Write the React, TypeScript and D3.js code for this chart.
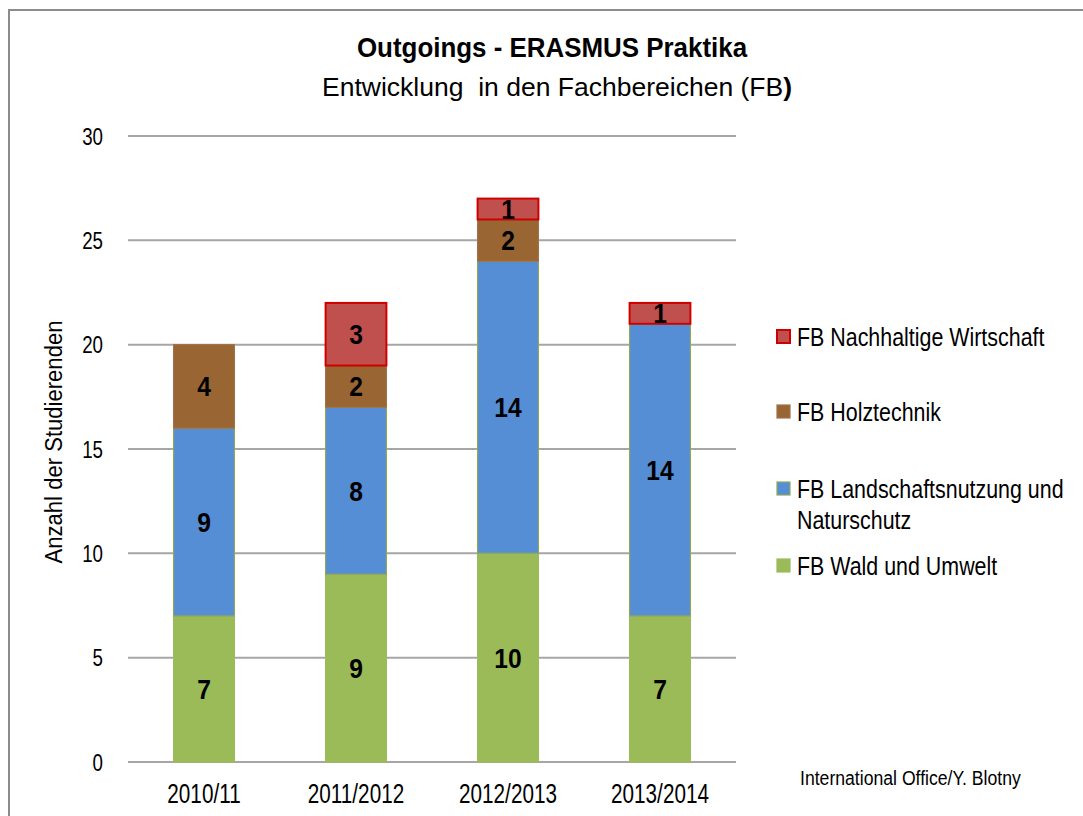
import React from 'react';
import * as d3 from 'd3';

const years = ['2010/11', '2011/2012', '2012/2013', '2013/2014'];
const wald = [7, 9, 10, 7];
const landschaft = [9, 8, 14, 14];
const holz = [4, 2, 2, 0];
const nachhaltig = [0, 3, 1, 1];
const yTicks = [0, 5, 10, 15, 20, 25, 30];

const fills = ['#9BBB59', '#558ED5', '#996633', '#C0504D'];
const strokes = ['#9BBB59', '#8DA85A', '#A07048', '#D00000'];

const FONT = '"Liberation Sans", Arial, sans-serif';

const W = 1083, H = 816;
const left = 128, right = 736, top = 136, bottom = 762;

// narrow-ish text: the original uses a condensed Arial
function T(props: any) {
  const { x, y, sx = 1, rot = 0, children, ...rest } = props;
  return (
    <text transform={`translate(${x},${y}) rotate(${rot}) scale(${sx},1)`} fill="#000" {...rest}>{children}</text>
  );
}

export default function App() {
  const rows = years.map((y, i) => ({ year: y, s0: wald[i], s1: landschaft[i], s2: holz[i], s3: nachhaltig[i] }));
  const stack = d3.stack<any>().keys(['s0', 's1', 's2', 's3'])(rows);

  const x = d3.scaleBand().domain(years).range([left, right]).paddingInner(0.6).paddingOuter(0.3);
  const y = d3.scaleLinear().domain([0, 30]).range([bottom, top]);

  const legendRows = [
    { i: 3, y: 337, lines: ['FB Nachhaltige Wirtschaft'] },
    { i: 2, y: 412, lines: ['FB Holztechnik'] },
    { i: 1, y: 489, lines: ['FB Landschaftsnutzung und', 'Naturschutz'] },
    { i: 0, y: 566, lines: ['FB Wald und Umwelt'] },
  ];

  return (
    <svg width={W} height={H} style={{ position: 'absolute', left: 0, top: 0, fontFamily: FONT }}>
      <rect x={0} y={0} width={W} height={H} fill="#fff" />
      <rect x={9} y={10} width={1080} height={820} fill="none" stroke="#8c8c8c" strokeWidth={2} />

      <T x={552} y={57} sx={0.96} textAnchor="middle" fontSize={27} fontWeight="bold">Outgoings - ERASMUS Praktika</T>
      <T x={557} y={96} sx={1.02} textAnchor="middle" fontSize={26}>
        {'Entwicklung\u00a0 in den Fachbereichen (FB'}<tspan fontWeight="bold">)</tspan>
      </T>

      {yTicks.map(t => (
        <g key={t}>
          <line x1={left} x2={right} y1={y(t)} y2={y(t)} stroke="#a6a6a6" strokeWidth={2} />
          <T x={103} y={y(t)} sx={0.78} dy="0.36em" textAnchor="end" fontSize={24}>{t}</T>
        </g>
      ))}

      <T x={62} y={442} rot={-90} sx={0.92} textAnchor="middle" fontSize={24}>Anzahl der Studierenden</T>

      {stack.map((layer, si) => (
        <g key={si}>
          {layer.map((d, i) => {
            const v = d[1] - d[0];
            if (v <= 0) return null;
            const bx = x(years[i])!;
            const y1 = y(d[1]), y0 = y(d[0]);
            return (
              <g key={i}>
                <rect x={bx} y={y1} width={x.bandwidth()} height={y0 - y1} fill={fills[si]} stroke={strokes[si]} strokeWidth={si === 3 ? 2 : 1.2} />
                <T x={bx + x.bandwidth() / 2} y={(y0 + y1) / 2} sx={0.88} dy="0.36em" textAnchor="middle" fontSize={28} fontWeight="bold">{v}</T>
              </g>
            );
          })}
        </g>
      ))}

      {years.map(yr => (
        <T key={yr} x={x(yr)! + x.bandwidth() / 2} y={803} sx={0.74} textAnchor="middle" fontSize={28}>{yr}</T>
      ))}

      {legendRows.map(r => (
        <g key={r.i}>
          <rect x={777} y={r.y - 7} width={13} height={13} fill={fills[r.i]} stroke={strokes[r.i]} strokeWidth={r.i === 3 ? 2 : 1.2} />
          {r.lines.map((ln, k) => (
            <T key={k} x={797} y={r.y + k * 31} sx={0.84} dy="0.36em" fontSize={25.5}>{ln}</T>
          ))}
        </g>
      ))}

      <T x={800} y={785} sx={0.84} fontSize={21}>International Office/Y. Blotny</T>
    </svg>
  );
}
